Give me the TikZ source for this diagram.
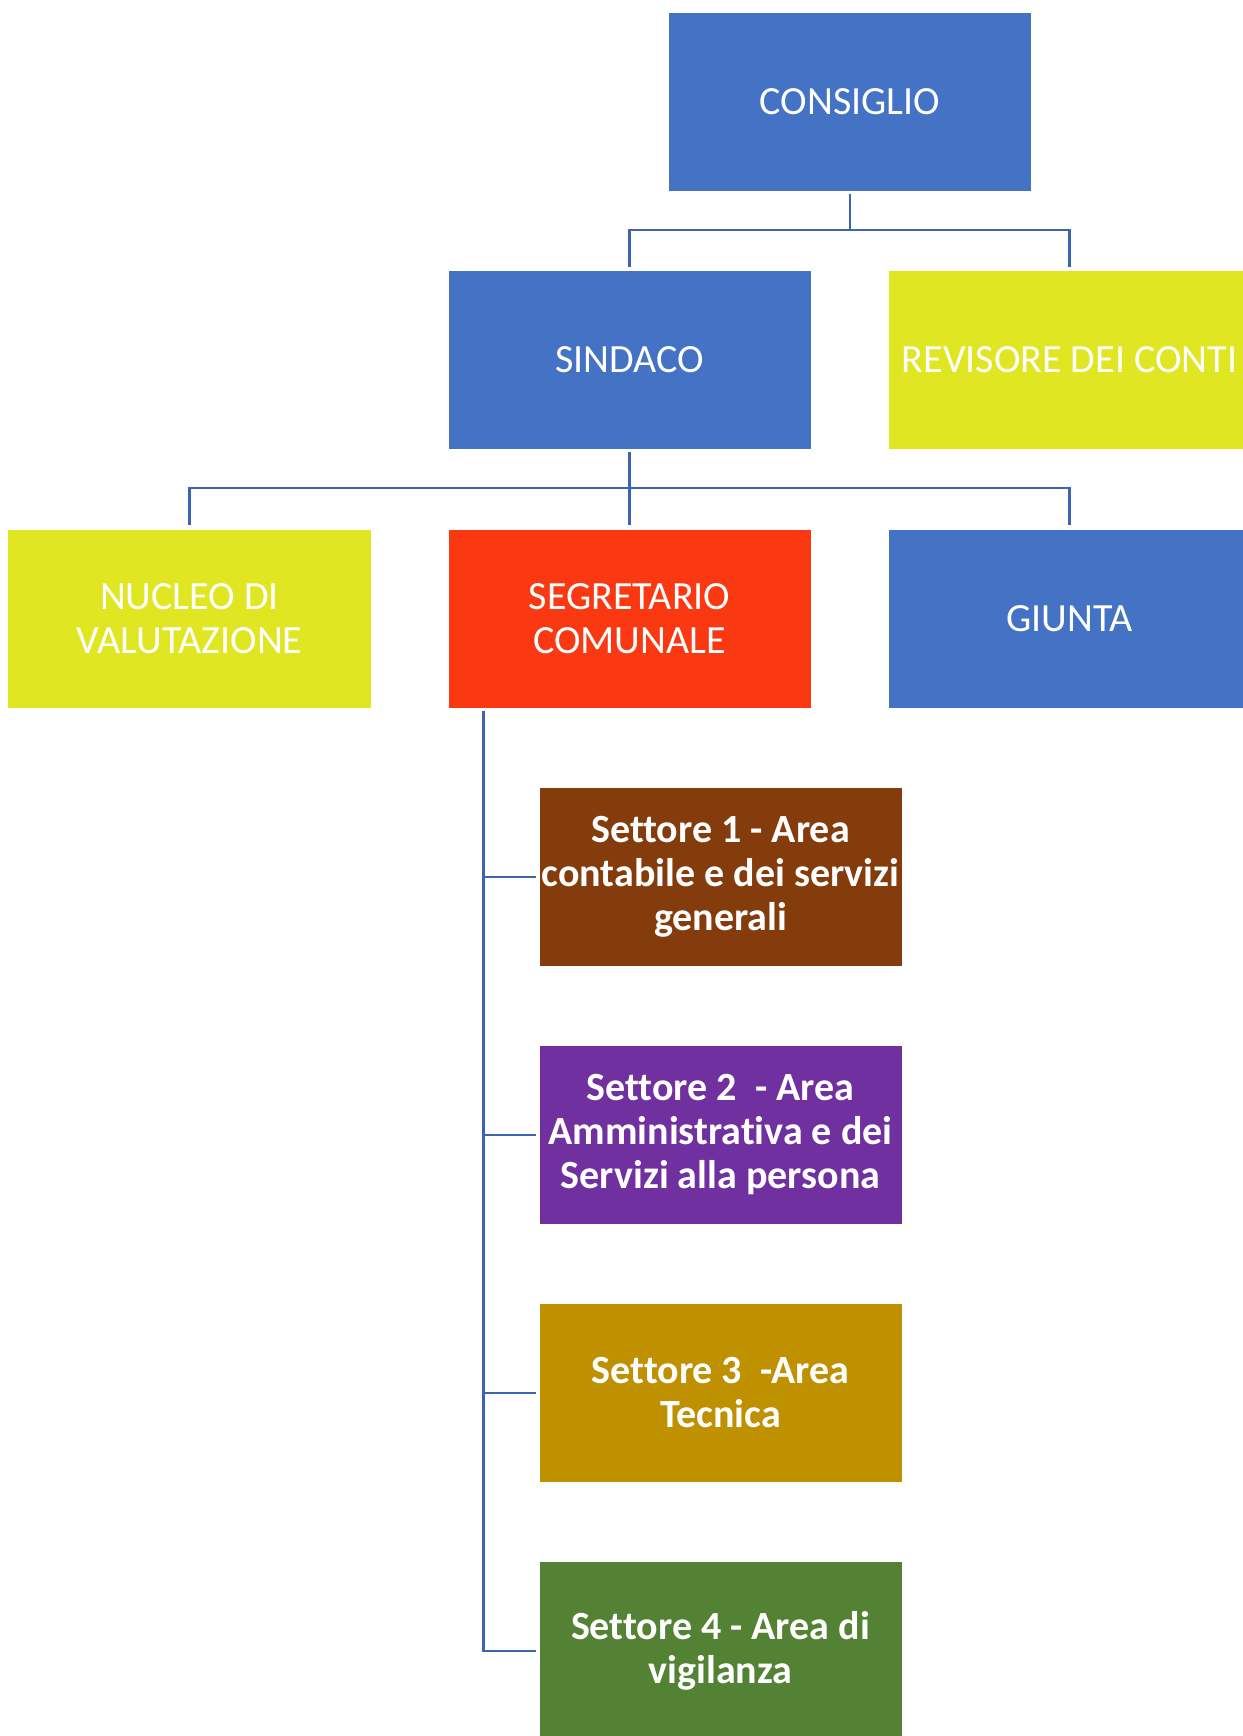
\documentclass[tikz,border=0pt]{standalone}
\usepackage{fontspec}
\setmainfont{Carlito}[Ligatures={NoCommon}]
\definecolor{cblue}{HTML}{4472C4}
\definecolor{cyel}{HTML}{E1E623}
\definecolor{cred}{HTML}{FA3912}
\definecolor{cbrown}{HTML}{843C0C}
\definecolor{cpurp}{HTML}{7030A0}
\definecolor{cgold}{HTML}{BF9000}
\definecolor{cgreen}{HTML}{548235}
\definecolor{cline}{HTML}{3D64B2}
\begin{document}
\begin{tikzpicture}[x=1bp,y=-1bp,
  box/.style={rectangle, minimum width=362bp, minimum height=178bp, inner sep=0pt,
    text=white, align=center, font=\fontsize{40bp}{44bp}\selectfont},
  sbox/.style={box, font=\fontsize{40bp}{44bp}\selectfont\bfseries},
  conn/.style={draw=cline, line width=2.6bp}]
\useasboundingbox (0,0) rectangle (1242,1736);
\node[box, fill=cblue] (cons) at (850,102) {CONSIGLIO};
\node[box, fill=cblue] (sind) at (629.5,360) {SINDACO};
\node[box, fill=cyel] (rev) at (1069.5,360) {REVISORE DEI CONTI};
\node[box, fill=cyel] (nuc) at (189.5,618.5) {NUCLEO DI\\VALUTAZIONE};
\node[box, fill=cred] (seg) at (629.5,618.5) {SEGRETARIO\\COMUNALE};
\node[box, fill=cblue] (giu) at (1069.5,618.5) {GIUNTA};
\node[sbox, fill=cbrown] (s1) at (720.5,877) {Settore 1 - Area\\contabile e dei servizi\\generali};
\node[sbox, fill=cpurp] (s2) at (720.5,1135) {Settore 2 \ - Area\\Amministrativa e dei\\Servizi alla persona};
\node[sbox, fill=cgold] (s3) at (720.5,1393) {Settore 3 \ -Area\\Tecnica};
\node[sbox, fill=cgreen] (s4) at (720.5,1651) {Settore 4 - Area di\\vigilanza};
\coordinate (j1) at (850,230);
\coordinate (j2) at (629.5,488);
\draw[conn, shorten <=3bp, shorten >=4bp] (cons.south) -- (j1) -| (sind.north);
\draw[conn, shorten >=4bp] (j1) -| (rev.north);
\draw[conn, shorten <=3bp, shorten >=4bp] (sind.south) -- (j2) -| (nuc.north);
\draw[conn, shorten >=4bp] (j2) -- (seg.north);
\draw[conn, shorten >=4bp] (j2) -| (giu.north);
\coordinate (sp) at ([xshift=35bp]seg.south west);
\draw[conn, shorten <=3bp, shorten >=3bp] (sp) |- (s4.west);
\foreach \s in {s1,s2,s3} \draw[conn, shorten >=3bp] (sp |- \s.west) -- (\s.west);
\end{tikzpicture}
\end{document}
